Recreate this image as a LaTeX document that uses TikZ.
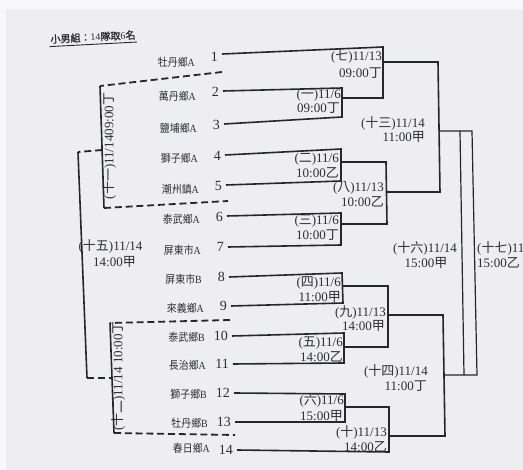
\documentclass[tikz,border=0pt]{standalone}
\usepackage{fontspec}
\setmainfont{Liberation Serif}
\newfontfamily\cjk{Noto Sans CJK TC}
\newfontfamily\cjkb[FakeBold=1.5]{Noto Sans CJK TC}
\newcommand\zh[1]{{\cjk #1}}
\definecolor{ink}{RGB}{38,38,46}
\definecolor{txt}{RGB}{45,45,55}
\definecolor{pagebg}{RGB}{237,237,242}
\definecolor{rimbg}{RGB}{248,248,250}
\tikzset{
  ln/.style={draw=ink, line width=1.6pt, line join=miter},
  thinln/.style={draw=ink, line width=1.2pt, line join=miter},
  dsh/.style={draw=ink, line width=1.8pt, dash pattern=on 7pt off 3.8pt},
  lab/.style={inner sep=0pt, text=txt, font=\fontsize{13}{15}\selectfont, anchor=east, text height=9.5pt, text depth=1pt},
  tname/.style={inner sep=0pt, text=txt, font=\fontsize{11}{13}\selectfont, anchor=east},
  tnum/.style={inner sep=0pt, text=txt, font=\fontsize{14}{16}\selectfont, anchor=east}
}
\begin{document}
\begin{tikzpicture}[x=1pt,y=-1pt]
\useasboundingbox (0,0) rectangle (523,470);
\fill[pagebg] (0,0) rectangle (523,470);
\fill[rimbg] (0,0) rectangle (523,9);
\fill[rimbg] (0,0) rectangle (6,470);

% title
\node[inner sep=1pt, text=txt, rotate=3, font=\fontsize{10}{12}\selectfont] (title) at (93,37)
  {{\cjkb 小男組：}14{\cjkb 隊取}6{\cjkb 名}};
\draw[ink, line width=0.9pt] ([yshift=-1.5pt]title.south west) -- ([yshift=-1.5pt]title.south east);

% teams
\foreach \i/\nm/\s/\lx/\ly/\ny/\my in {
  1/牡丹鄉/A/222/54/62/57,
  2/萬丹鄉/A/223/91/96/92,
  3/鹽埔鄉/A/224/124/128/125,
  4/獅子鄉/A/225/155/158/156,
  5/潮州鎮/A/226/185/189/186,
  6/泰武鄉/A/227/216/219/217,
  7/屏東市/A/228/247/250/247,
  8/屏東市/B/229/277/279/277,
  9/來義鄉/A/231/306/308/306,
  10/泰武鄉/B/232/336/337/336,
  11/長治鄉/A/233/364/365/364,
  12/獅子鄉/B/234/393/394/393,
  13/牡丹鄉/B/235/422/423/422,
  14/春日鄉/A/237/450/448/450}{
  \node[tname] (t\i) at (\lx-27,\ny) {\scalebox{0.9}[1]{\zh{\nm}\s}};
  \node[tnum] (n\i) at (\lx-4,\my) {\i};
  \coordinate (L\i) at (\lx,\ly);
}

% right ends of team lines
\coordinate (R1) at (383,47);
\coordinate (R2) at (342,88);
\coordinate (R3) at (342,117);
\coordinate (R4) at (341,149);
\coordinate (R5) at (341,181);
\coordinate (R6) at (341,213);
\coordinate (R7) at (341,245);
\coordinate (R8) at (342,273);
\coordinate (R9) at (343,303);
\coordinate (R10) at (344,333);
\coordinate (R11) at (344,363);
\coordinate (R12) at (345,394);
\coordinate (R13) at (345,422);
\coordinate (R14) at (389,452);

% outputs of round 1
\coordinate (o1) at (342,98);
\coordinate (o2) at (341,162);
\coordinate (o3) at (341,224);
\coordinate (o4) at (342.4,286);
\coordinate (o5) at (344,347);
\coordinate (o6) at (345,407);
% round 2 corners
\coordinate (t7b) at (383,98);
\coordinate (t8a) at (386,162);
\coordinate (t8b) at (387,224);
\coordinate (t9a) at (388,286);
\coordinate (t9b) at (388,347);
\coordinate (t10a) at (389,407);
\coordinate (o7) at (383,62);
\coordinate (o8) at (386.5,192);
\coordinate (o9) at (388,315);
\coordinate (o10) at (389,436);
% round 3
\coordinate (t13a) at (438,62);
\coordinate (t13b) at (440,192);
\coordinate (t14a) at (443,315);
\coordinate (t14b) at (445,436);
\coordinate (o13) at (439,131);
\coordinate (o14) at (444,375);
% finals
\coordinate (f16a) at (460,131);
\coordinate (f16b) at (464,375);
\coordinate (f17a) at (472,131);
\coordinate (f17b) at (477,375);

\draw[ln] (L2) -- (R2) -- (R3) -- (L3);
\draw[ln] (L4) -- (R4) -- (R5) -- (L5);
\draw[ln] (L6) -- (R6) -- (R7) -- (L7);
\draw[ln] (L8) -- (R8) -- (R9) -- (L9);
\draw[ln] (L10) -- (R10) -- (R11) -- (L11);
\draw[ln] (L12) -- (R12) -- (R13) -- (L13);
\draw[ln] (L1) -- (R1) -- (t7b) -- (o1);
\draw[ln] (o2) -- (t8a) -- (t8b) -- (o3);
\draw[ln] (o4) -- (t9a) -- (t9b) -- (o5);
\draw[ln] (o6) -- (t10a) -- (R14) -- (L14);
\draw[ln] (o7) -- (t13a) -- (t13b) -- (o8);
\draw[ln] (o9) -- (t14a) -- (t14b) -- (o10);
\draw[thinln] (o13) -- (f17a) -- (f17b) -- (o14);
\draw[thinln] (f16a) -- (f16b);

% left dashed brackets
\coordinate (d11a) at (222,72);
\coordinate (d11b) at (100,86);
\coordinate (d11c) at (104,208);
\coordinate (d11d) at (228,201);
\coordinate (e15a) at (102,150);
\coordinate (f15a) at (78,152);
\coordinate (f15b) at (87,378);
\coordinate (e15b) at (112,378);
\coordinate (d12a) at (230,320);
\coordinate (d12b) at (110,323);
\coordinate (d12c) at (114,433);
\coordinate (d12d) at (235,435);
\draw[dsh] (d11a) -- (d11b);
\draw[ln] (d11b) -- (d11c);
\draw[dsh] (d11c) -- (d11d);
\draw[dsh] (e15a) -- (f15a);
\draw[ln] (f15a) -- (f15b);
\draw[dsh] (f15b) -- (e15b);
\draw[dsh] (d12a) -- (d12b);
\draw[ln] (d12b) -- (d12c);
\draw[dsh] (d12c) -- (d12d);

% match labels
\node[lab] (m1a) at (341,94) {(\zh{一})11/6};
\node[lab] (m1b) at (340,108) {09:00\zh{丁}};
\node[lab] (m2a) at (339,158) {(\zh{二})11/6};
\node[lab] (m2b) at (339,173) {10:00\zh{乙}};
\node[lab] (m3a) at (339,220) {(\zh{三})11/6};
\node[lab] (m3b) at (339,235) {10:00\zh{丁}};
\node[lab] (m4a) at (341,282) {(\zh{四})11/6};
\node[lab] (m4b) at (341,297) {11:00\zh{甲}};
\node[lab] (m5a) at (343,342) {(\zh{五})11/6};
\node[lab] (m5b) at (343,357) {14:00\zh{乙}};
\node[lab] (m6a) at (344,400) {(\zh{六})11/6};
\node[lab] (m6b) at (343,416) {15:00\zh{甲}};
\node[lab] (m7a) at (382,56) {(\zh{七})11/13};
\node[lab] (m7b) at (382,73) {09:00\zh{丁}};
\node[lab] (m8a) at (384,187) {(\zh{八})11/13};
\node[lab] (m8b) at (384,202) {10:00\zh{乙}};
\node[lab] (m9a) at (386,312) {(\zh{九})11/13};
\node[lab] (m9b) at (385,326) {14:00\zh{甲}};
\node[lab] (m10a) at (387,432) {(\zh{十})11/13};
\node[lab] (m10b) at (387,447) {14:00\zh{乙}};
\node[lab] (m13a) at (425,123) {(\zh{十三})11/14};
\node[lab] (m13b) at (425,137) {11:00\zh{甲}};
\node[lab] (m14a) at (428,371) {(\zh{十四})11/14};
\node[lab] (m14b) at (427,386) {11:00\zh{丁}};
\node[lab, anchor=center] (m16a) at (425,248) {(\zh{十六})11/14};
\node[lab, anchor=center] (m16b) at (426,263) {15:00\zh{甲}};
\node[lab, anchor=west] (m17a) at (477,248) {(\zh{十七})11/14};
\node[lab, anchor=west] (m17b) at (477,263) {15:00\zh{乙}};
\node[lab, anchor=center] (m15a) at (110.5,246) {(\zh{十五})11/14};
\node[lab, anchor=center] (m15b) at (114.5,262) {14:00\zh{甲}};
\node[lab, anchor=center, rotate=90] (m11) at (109,146) {(\zh{十一})11/1409:00\zh{丁}};
\node[lab, anchor=center, rotate=90] (m12) at (118,376) {(\zh{十二})11/14 10:00\zh{丁}};
\end{tikzpicture}
\end{document}
